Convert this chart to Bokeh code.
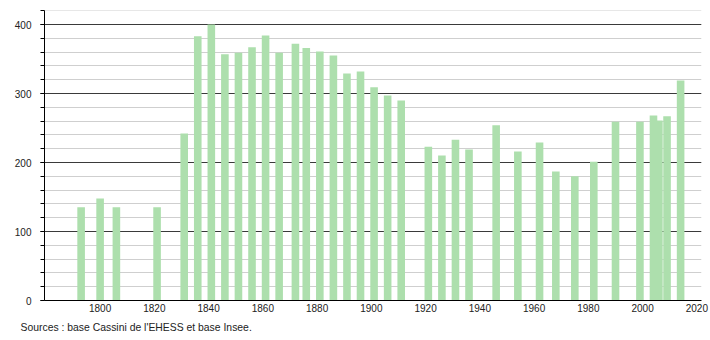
from bokeh.plotting import figure
from bokeh.models import Range1d, SingleIntervalTicker, FixedTicker, Title
from bokeh.embed import file_html
from bokeh.resources import INLINE

years = [1793, 1800, 1806, 1821, 1831, 1836, 1841, 1846, 1851, 1856, 1861, 1866,
         1872, 1876, 1881, 1886, 1891, 1896, 1901, 1906, 1911, 1921, 1926, 1931,
         1936, 1946, 1954, 1962, 1968, 1975, 1982, 1990, 1999, 2006, 2004, 2009, 2014]
population = [135, 148, 135, 135, 242, 383, 400, 357, 359, 367, 384, 359,
              372, 366, 361, 355, 329, 332, 309, 297, 290, 223, 210, 233,
              219, 254, 216, 229, 187, 180, 201, 259, 259, 261, 268, 267, 319]
x_ticks = [1800, 1820, 1840, 1860, 1880, 1900, 1920, 1940, 1960, 1980, 2000, 2020]
source_text = "Sources : base Cassini de l'EHESS et base Insee."

FONT = "Liberation Sans"

p = figure(width=710, height=340, output_backend="svg", toolbar_location=None,
           x_range=Range1d(1779.5, 2021.7), y_range=Range1d(0, 420.3),
           min_border_left=44, min_border_right=9, min_border_top=10, min_border_bottom=40)
p.outline_line_color = None
p.background_fill_color = "white"
p.border_fill_color = "white"

p.vbar(x=years, top=population, width=2.8, fill_color="#addfad", line_color=None)

p.xgrid.visible = False
p.ygrid.ticker = SingleIntervalTicker(interval=100, num_minor_ticks=5)
p.ygrid.grid_line_color = "#3a3a3a"
p.ygrid.grid_line_width = 1
p.ygrid.minor_grid_line_color = "#cfcfcf"
p.ygrid.minor_grid_line_width = 1

p.yaxis.ticker = SingleIntervalTicker(interval=100, num_minor_ticks=5)
p.yaxis.axis_line_color = "black"
p.yaxis.major_tick_line_color = "black"
p.yaxis.minor_tick_line_color = "black"
p.yaxis.major_tick_in = 0
p.yaxis.major_tick_out = 4
p.yaxis.minor_tick_in = 0
p.yaxis.minor_tick_out = 4
p.yaxis.major_label_standoff = 9
p.yaxis.major_label_text_font = FONT
p.yaxis.major_label_text_font_size = "10px"
p.yaxis.major_label_text_color = "#222222"

p.xaxis.ticker = FixedTicker(ticks=x_ticks)
p.xaxis.axis_line_color = "black"
p.xaxis.major_tick_line_color = None
p.xaxis.minor_tick_line_color = None
p.xaxis.major_tick_in = 0
p.xaxis.major_tick_out = 0
p.xaxis.major_label_standoff = 3
p.xaxis.major_label_text_font = FONT
p.xaxis.major_label_text_font_size = "10px"
p.xaxis.major_label_text_color = "#222222"

t = Title(text=source_text, align="left", text_font=FONT, text_font_size="10.4px",
          text_font_style="normal", text_color="#222222", offset=-24, standoff=10)
p.add_layout(t, "below")

open("out.html", "w").write(file_html(p, INLINE))
